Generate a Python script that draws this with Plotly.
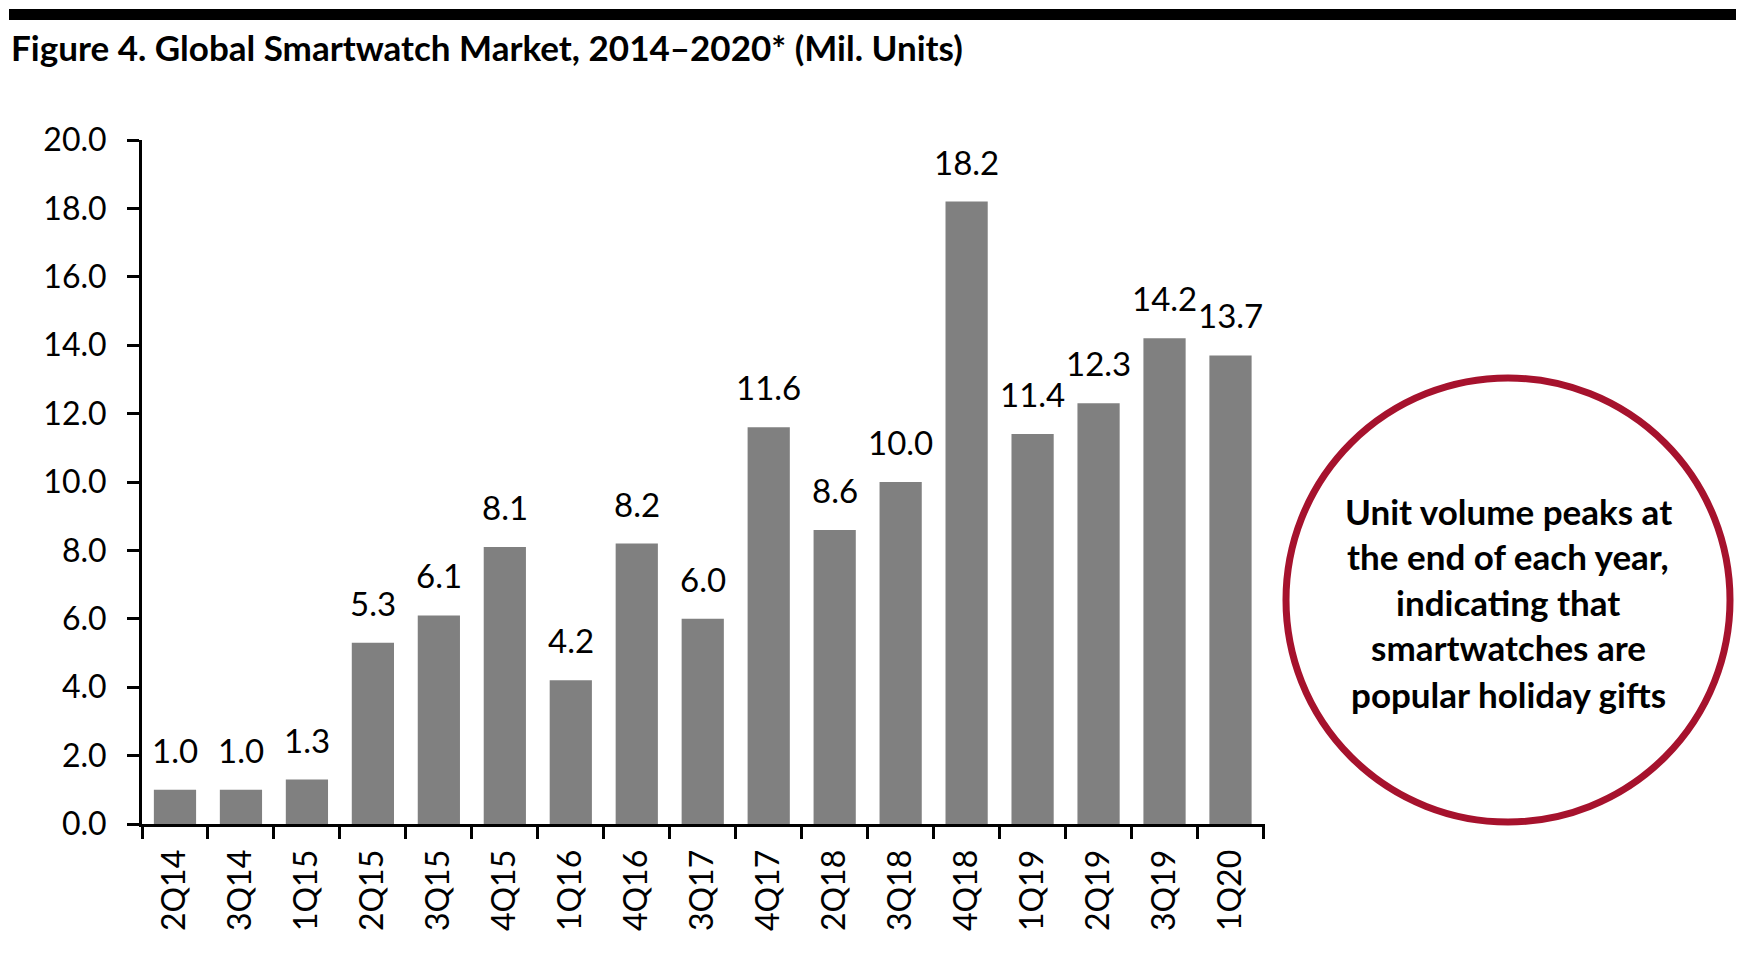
import plotly.graph_objects as go

categories = ["2Q14", "3Q14", "1Q15", "2Q15", "3Q15", "4Q15", "1Q16", "4Q16", "3Q17",
              "4Q17", "2Q18", "3Q18", "4Q18", "1Q19", "2Q19", "3Q19", "1Q20"]
units = [1.0, 1.0, 1.3, 5.3, 6.1, 8.1, 4.2, 8.2, 6.0, 11.6, 8.6, 10.0, 18.2, 11.4, 12.3, 14.2, 13.7]
y_ticks = [0, 2, 4, 6, 8, 10, 12, 14, 16, 18, 20]
title_text = "Figure 4. Global Smartwatch Market, 2014–2020* (Mil. Units)"
callout_lines = ["Unit volume peaks at", "the end of each year,", "indicating that",
                 "smartwatches are", "popular holiday gifts"]

W, H = 1744, 976
OFF = 8  # browser body margin
L, R, T, B = 142 - OFF, 1265 - OFF, 140 - OFF, 824 - OFF  # plot area in figure pixels

def px(x):
    return (x - OFF - L) / (R - L)

def py(y):
    return (B - (y - OFF)) / (B - T)

FONT = "Lato"

fig = go.Figure()
fig.add_trace(go.Bar(
    x=categories, y=units, marker=dict(color="#808080", line=dict(width=0)),
    showlegend=False, hoverinfo="x+y",
))

annotations = []
for c, v in zip(categories, units):
    annotations.append(dict(x=c, y=v, xref="x", yref="y", text=f"{v:.1f}",
                            showarrow=False, yshift=40, yanchor="middle",
                            font=dict(family=FONT, size=33, color="black")))

line_y = [511, 556, 602, 647, 694]
for t, yy in zip(callout_lines, line_y):
    annotations.append(dict(x=px(1508), y=py(yy), xref="paper", yref="paper", text=f"<b>{t}</b>",
                            showarrow=False, xanchor="center", yanchor="middle",
                            font=dict(family=FONT, size=35, color="black")))

shapes = [
    dict(type="rect", xref="paper", yref="paper", x0=px(9), x1=px(1760), y0=py(20), y1=py(9),
         fillcolor="black", line=dict(width=0)),
    dict(type="circle", xref="paper", yref="paper", x0=px(1286), x1=px(1730), y0=py(822), y1=py(378),
         line=dict(color="#A6122D", width=7), fillcolor="rgba(0,0,0,0)"),
]

fig.update_layout(
    width=W, height=H,
    margin=dict(l=L, r=W - R, t=T, b=H - B, pad=0, autoexpand=False),
    paper_bgcolor="white", plot_bgcolor="white",
    bargap=0.36,
    title=dict(text=f"<b>{title_text}</b>", xref="container", yref="container",
               x=(11 - OFF) / W, y=1 - (49 - OFF) / H, xanchor="left", yanchor="middle",
               font=dict(family=FONT, size=35, color="black")),
    xaxis=dict(showline=True, linecolor="black", linewidth=3, ticks="outside", tickson="boundaries",
               ticklen=12, tickwidth=3, tickcolor="black", tickangle=-90, ticklabelstandoff=10,
               automargin=False,
               tickfont=dict(family=FONT, size=32, color="black"), showgrid=False, zeroline=False),
    yaxis=dict(range=[0, 20], tickvals=y_ticks, tickformat=".1f", showline=True, linecolor="black",
               linewidth=3, ticks="outside", ticklen=12, tickwidth=3, tickcolor="black",
               ticklabelstandoff=14, automargin=False,
               tickfont=dict(family=FONT, size=32, color="black"), showgrid=False, zeroline=False),
    annotations=annotations, shapes=shapes,
)

fig.write_html("out.html")
